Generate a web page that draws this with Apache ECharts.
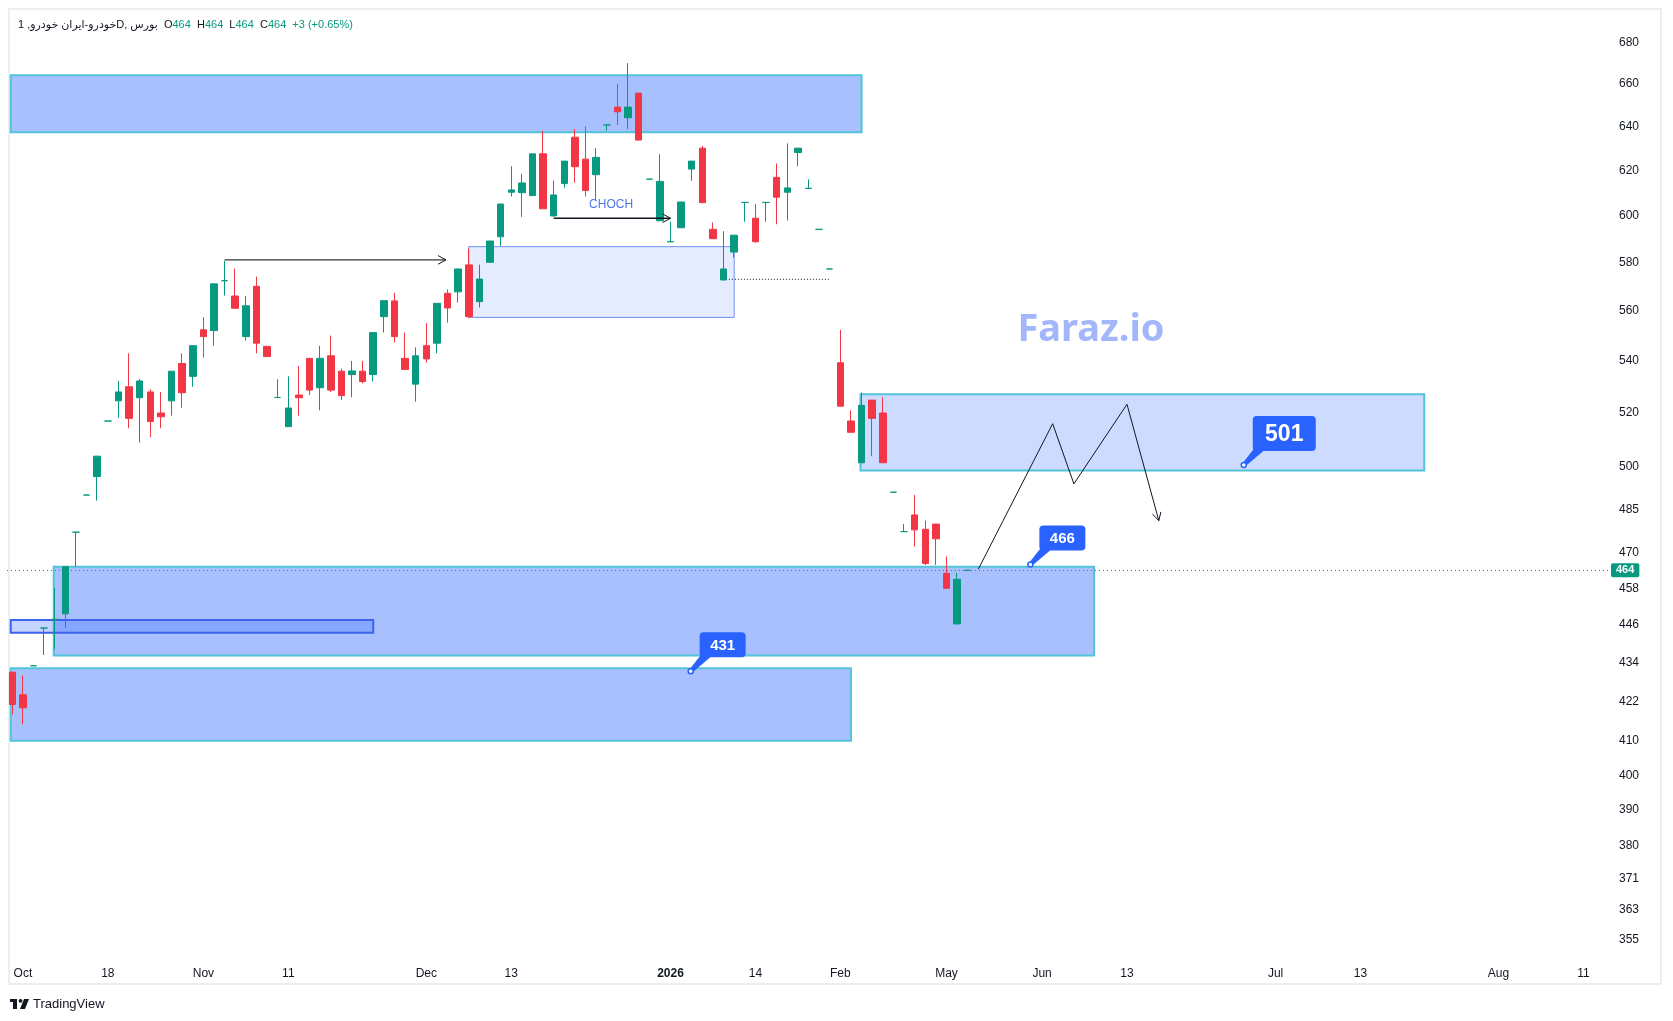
<!DOCTYPE html>
<html>
<head>
<meta charset="utf-8">
<title>خودرو</title>
<script src="https://cdn.jsdelivr.net/npm/echarts@6.0.0/dist/echarts.min.js"></script>
<style>
  html, body { margin: 0; padding: 0; background: #fff; }
  #chart { width: 1673px; height: 1021px; }
</style>
</head>
<body>
<div id="chart"></div>
<script>
// daily bars, bar 0 = first visible bar (early Oct)
const opens = [431, 424, 433, 445, 447.8, 449.6, 477, 490, 496.6, 517,
  524.6, 530, 525.8, 528, 520, 524.6, 539, 534, 552.3, 552,
  572.3, 566, 549.6, 570, 545.7, 525.9, 514.9, 526.8, 541, 529.6,
  542, 536, 534.7, 536, 534.7, 557.6, 564, 541, 531, 546,
  547, 567.1, 567.7, 578.9, 563.7, 580, 590.8, 610.2, 610, 608.7,
  627.4, 599.8, 614.1, 635, 625, 618, 640.7, 649, 644, 655.6,
  616, 597.7, 588.7, 594.7, 620.5, 630, 594, 572.6, 584.3, 605.7,
  598.8, 605.7, 616.8, 610.2, 628, 611.9, 594, 577.2, 539.3, 517,
  501.6, 524.9, 520, 491, 477.2, 483, 478, 479.8, 463, 446.3, 464];
const highs = [431, 430, 433, 445, 458.2, 465.2, 477, 490, 504, 517,
  532.2, 543, 533, 529, 528, 536, 543, 546, 557.4, 571,
  580.6, 577.3, 566, 574, 546, 532.9, 534, 538, 541, 546,
  550, 537, 540, 540, 551.2, 564.1, 567.3, 551.2, 545.3, 555,
  563, 568.7, 577.2, 585.7, 579, 589, 605, 621.8, 618.4, 627.4,
  638, 615.3, 624.1, 638.8, 640, 630, 640.7, 660, 670, 655.6,
  616, 627.2, 597.3, 605.9, 624.1, 631, 597, 593.2, 591.5, 605.7,
  605, 605.7, 623, 632.2, 630, 615.9, 594, 577.2, 552.3, 521,
  527.8, 524.9, 526, 491, 479.8, 490, 481, 479.8, 468.7, 463.2, 464];
const lows = [418, 415, 433, 436.4, 438.2, 445.1, 465.2, 490, 488, 517,
  518.2, 514.3, 509, 511, 514.3, 519, 522, 530, 541.3, 546,
  566.2, 561, 548, 543, 541.7, 525.9, 514.9, 519, 526.8, 521,
  528, 525, 526, 531.3, 532, 551.2, 547.3, 536.7, 524.3, 539.3,
  543, 555.2, 563.3, 557, 561.3, 580, 587, 608.3, 599.4, 608.7,
  602.9, 599.5, 612.2, 614.4, 608.3, 606.8, 638, 640.6, 638.8, 633.7,
  616, 597.7, 588.7, 594.7, 615.3, 605.6, 590, 572.6, 582, 597.3,
  588.3, 597.3, 596.2, 597.8, 621.8, 611.9, 594, 577.2, 522.6, 512.8,
  501.6, 504.1, 501.6, 491, 477.2, 472, 465.8, 465.8, 458, 446.3, 464];
const closes = [421, 420, 433, 445, 447.8, 465.2, 477, 490, 504, 517,
  528, 518, 532.2, 516.8, 518.6, 536, 527.7, 546, 549.6, 571,
  572.3, 561, 562, 547, 541.7, 525.9, 521.9, 525.8, 528.7, 541,
  528.7, 526.6, 536.1, 532, 551.2, 564.1, 549.6, 536.7, 542, 540.8,
  563, 561.1, 577.2, 557.6, 573, 589, 605, 611.2, 614.3, 627.4,
  602.9, 609, 624.1, 621.6, 611, 625.8, 640.7, 646.8, 649, 633.7,
  616, 615, 588.7, 605.9, 624.1, 605.6, 590, 577.2, 591.5, 605.7,
  588.7, 605.7, 608, 612.1, 630, 611.9, 594, 577.2, 522.6, 512.8,
  522.9, 518, 501.6, 491, 477.2, 477.8, 466.3, 474.7, 458, 461, 464];

const lastPrice = 464;
const priceTicks = [680, 660, 640, 620, 600, 580, 560, 540, 520, 500, 485, 470,
  458, 446, 434, 422, 410, 400, 390, 380, 371, 363, 355];
const timeTickIdx = [1, 9, 18, 26, 39, 47, 62, 70, 78, 88, 97, 105, 119, 127, 140, 148];
const timeTickText = ['Oct', '18', 'Nov', '11', 'Dec', '13', '2026', '14', 'Feb',
  'May', 'Jun', '13', 'Jul', '13', 'Aug', '11'];

// zones: [fromBar, toBar, topPrice, bottomPrice]
const zone431 = [-0.15, 79, 432.2, 410.1];
const zoneBig = [3.9, 101.9, 465.2, 436.2];
const zoneBand = [-0.15, 34, 447.6, 443.5];
const zoneTop = [-0.15, 80, 664.2, 637.3];
const zoneOB = [43, 68, 586.6, 557.3];
const zone501 = [79.9, 133, 527.1, 498.8];

// drawings: [bar, price] points
const bosArrow = [[20, 581], [40.85, 581]];
const chochArrow = [[51, 598.8], [62, 598.8]];
const chochLabel = [56.4, 604.6];
const dottedLevel = [[67.5, 572.9], [77, 572.9]];
const zigzag = [[91, 464.4], [98, 516], [100, 494], [105, 523.3], [108, 481]];

const calloutBar = [116, 95.9, 63.9];
const calloutPrice = [500.8, 466, 431.3];
const calloutText = ['501', '466', '431'];

const UP = '#089981';
const DOWN = '#f23645';
const INK = '#131722';
const L = Math.log;
const FONT = '"Liberation Sans", "DejaVu Sans", Arial, sans-serif';

const candles = opens.map((o, i) => {
  const item = { value: [i, L(o), L(closes[i]), L(lows[i]), L(highs[i])] };
  if (o === closes[i]) {
    item.itemStyle = { color: UP, color0: UP, borderColor: UP, borderColor0: UP };
  }
  return item;
});

const zones = [zone431, zoneBig, zoneBand, zoneTop, zoneOB, zone501];
const cyan = '#52c4d8';
const zoneStyles = [
  { fill: 'rgba(41,98,255,0.4)', stroke: cyan, lineWidth: 2 },
  { fill: 'rgba(41,98,255,0.4)', stroke: cyan, lineWidth: 2 },
  { fill: 'rgba(41,98,255,0.27)', stroke: '#3d63ee', lineWidth: 2 },
  { fill: 'rgba(41,98,255,0.4)', stroke: cyan, lineWidth: 2 },
  { fill: 'rgba(41,98,255,0.12)', stroke: '#6f90f0', lineWidth: 1 },
  { fill: 'rgba(41,98,255,0.23)', stroke: cyan, lineWidth: 2 }
];

function renderZone(params, api) {
  const a = api.coord([api.value(0), api.value(2)]);
  const b = api.coord([api.value(1), api.value(3)]);
  return {
    type: 'rect',
    shape: { x: a[0], y: a[1], width: b[0] - a[0], height: b[1] - a[1] },
    style: zoneStyles[params.dataIndex]
  };
}

function chevron(from, to) {
  const a = Math.atan2(to[1] - from[1], to[0] - from[0]);
  const s = 9;
  return {
    type: 'polyline',
    shape: { points: [
      [to[0] - s * Math.cos(a - 0.5), to[1] - s * Math.sin(a - 0.5)],
      to,
      [to[0] - s * Math.cos(a + 0.5), to[1] - s * Math.sin(a + 0.5)]
    ] },
    style: { stroke: INK, lineWidth: 1, fill: null }
  };
}

function callout(p, text, big) {
  const w = big ? 63 : 46, h = big ? 35 : 25, dy = big ? 49 : 39;
  const bx = p[0] + 9, by = p[1] - dy;
  return [
    { type: 'polygon',
      shape: { points: [[bx + 1, by + h - 2], [bx + 13, by + h - 2], [p[0] + 2, p[1] + 1], [p[0] - 1, p[1] - 2]] },
      style: { fill: '#2962ff' } },
    { type: 'rect', shape: { x: bx, y: by, width: w, height: h, r: 4 }, style: { fill: '#2962ff' } },
    { type: 'text',
      style: { text: text, x: bx + w / 2, y: by + h / 2 + 1, align: 'center', verticalAlign: 'middle',
        fill: '#fff', font: 'bold ' + (big ? 23 : 15) + 'px ' + FONT } },
    { type: 'circle', shape: { cx: p[0], cy: p[1], r: 2.5 }, style: { fill: '#fff', stroke: '#2962ff', lineWidth: 1.5 } }
  ];
}

function renderDrawings(params, api) {
  const pt = (q) => api.coord([q[0], L(q[1])]);
  const kids = [];

  const b0 = pt(bosArrow[0]), b1 = pt(bosArrow[1]);
  kids.push({ type: 'line', shape: { x1: b0[0], y1: b0[1], x2: b1[0], y2: b1[1] }, style: { stroke: '#333', lineWidth: 1.3 } });
  kids.push(chevron(b0, b1));

  const c0 = pt(chochArrow[0]), c1 = pt(chochArrow[1]);
  kids.push({ type: 'line', shape: { x1: c0[0], y1: c0[1], x2: c1[0], y2: c1[1] }, style: { stroke: INK, lineWidth: 1.3 } });
  kids.push(chevron(c0, c1));
  const cl = pt(chochLabel);
  kids.push({ type: 'text', style: { text: 'CHOCH', x: cl[0], y: cl[1], align: 'center', verticalAlign: 'middle',
    fill: '#4a78e6', font: '12px ' + FONT } });

  const d0 = pt(dottedLevel[0]), d1 = pt(dottedLevel[1]);
  kids.push({ type: 'line', shape: { x1: d0[0], y1: d0[1], x2: d1[0], y2: d1[1] },
    style: { stroke: INK, lineWidth: 1, lineDash: [1, 2] } });

  const zz = zigzag.map(pt);
  kids.push({ type: 'polyline', shape: { points: zz }, style: { stroke: INK, lineWidth: 1, fill: null } });
  kids.push(chevron(zz[zz.length - 2], zz[zz.length - 1]));

  calloutText.forEach((t, k) => {
    callout(pt([calloutBar[k], calloutPrice[k]]), t, k === 0).forEach(el => kids.push(el));
  });
  return { type: 'group', children: kids };
}

const chart = echarts.init(document.getElementById('chart'));
chart.setOption({
  animation: false,
  backgroundColor: '#ffffff',
  grid: { left: 7, right: 63, top: 10, bottom: 65 },
  xAxis: {
    type: 'value',
    min: -0.5,
    max: 150.5,
    axisLine: { show: false },
    axisTick: { show: false },
    splitLine: { show: false },
    axisLabel: {
      customValues: timeTickIdx,
      margin: 12,
      color: INK,
      fontSize: 12,
      fontFamily: FONT,
      formatter: (v) => {
        const t = timeTickText[timeTickIdx.indexOf(Math.round(v))] || '';
        return /^\d{4}$/.test(t) ? '{b|' + t + '}' : t;
      },
      rich: { b: { fontWeight: 'bold', fontSize: 12, color: INK, fontFamily: FONT } }
    }
  },
  yAxis: {
    type: 'value',
    position: 'right',
    min: L(350.9),
    max: L(696.3),
    axisLine: { show: false },
    axisTick: { show: false },
    splitLine: { show: false },
    axisLabel: {
      customValues: priceTicks.map(L),
      margin: 9,
      color: INK,
      fontSize: 12,
      fontFamily: FONT,
      formatter: (v) => String(Math.round(Math.exp(v)))
    }
  },
  series: [
    {
      type: 'custom',
      name: 'zones',
      z: 1,
      silent: true,
      encode: { x: [0, 1], y: [2, 3] },
      data: zones.map(z => [z[0], z[1], L(z[2]), L(z[3])]),
      renderItem: renderZone
    },
    {
      type: 'candlestick',
      name: 'خودرو',
      z: 2,
      silent: true,
      barWidth: 7,
      data: candles,
      itemStyle: { color: UP, color0: DOWN, borderColor: UP, borderColor0: DOWN, borderWidth: 1 },
      markLine: {
        silent: true,
        symbol: ['none', 'none'],
        data: [{ yAxis: L(lastPrice) }],
        lineStyle: { type: [1, 3], color: UP, width: 1 },
        label: {
          position: 'end',
          distance: 1,
          formatter: String(lastPrice),
          color: '#fff',
          fontWeight: 'bold',
          fontSize: 11,
          fontFamily: FONT,
          backgroundColor: UP,
          padding: [2, 5, 1, 5],
          borderRadius: 2
        }
      }
    },
    {
      type: 'custom',
      name: 'drawings',
      z: 3,
      silent: true,
      data: [[50, L(500)]],
      renderItem: renderDrawings
    }
  ],
  graphic: [
    { type: 'rect', shape: { x: 9, y: 9, width: 1652, height: 975 }, style: { fill: null, stroke: '#eceef2', lineWidth: 2 }, z: 0 },
    {
      type: 'text', left: 18, top: 19,
      style: {
        text: '{t|خودرو-ایران خودرو, 1D, بورس}{k|  O}{v|464}{k|  H}{v|464}{k|  L}{v|464}{k|  C}{v|464}{v|  +3 (+0.65%)}',
        rich: {
          t: { fontSize: 11, fill: INK, fontFamily: FONT },
          k: { fontSize: 11, fill: INK, fontFamily: FONT },
          v: { fontSize: 11, fill: UP, fontFamily: FONT }
        }
      }
    },
    {
      type: 'text', x: 1091, y: 330,
      style: { text: 'Faraz.io', align: 'center', verticalAlign: 'middle', fill: '#a3b6fb',
        font: 'bold 38px "Noto Sans", "Open Sans", sans-serif' }
    },
    { type: 'rect', shape: { x: 10, y: 999, width: 7, height: 3 }, style: { fill: INK } },
    { type: 'rect', shape: { x: 13, y: 999, width: 4, height: 10 }, style: { fill: INK } },
    { type: 'circle', shape: { cx: 20.5, cy: 1000.8, r: 1.9 }, style: { fill: INK } },
    { type: 'polygon', shape: { points: [[24, 999], [29, 999], [25, 1009], [20, 1009]] }, style: { fill: INK } },
    {
      type: 'text', x: 33, y: 1004,
      style: { text: 'TradingView', verticalAlign: 'middle', fill: INK, font: '13px ' + FONT }
    }
  ]
});
</script>
</body>
</html>
